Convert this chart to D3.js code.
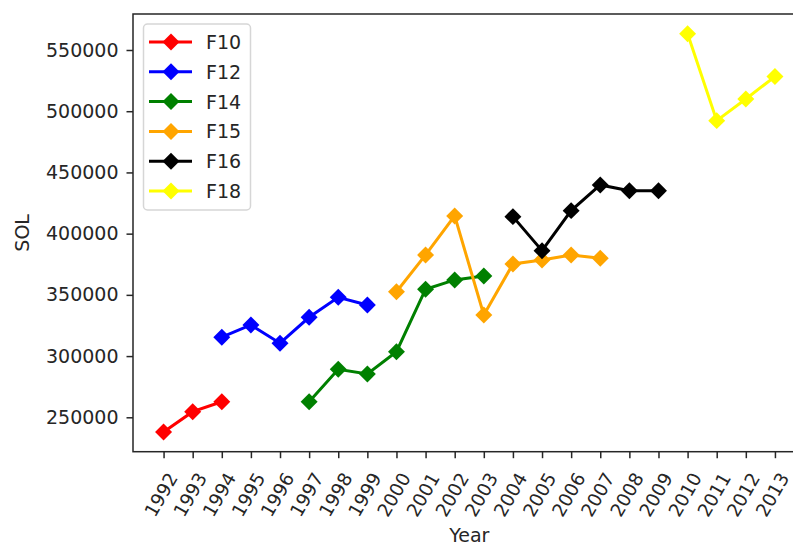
<!DOCTYPE html>
<html><head><meta charset="utf-8">
<script src="https://cdn.jsdelivr.net/npm/d3@7"></script>
<style>body{margin:0;background:#fff}svg{display:block}text{font-family:"DejaVu Sans",sans-serif;fill:#262626}</style>
</head><body>
<svg id="c" width="793" height="547"></svg>
<script>
const years = d3.range(1992, 2014);
const yTicks = [250000, 300000, 350000, 400000, 450000, 500000, 550000];
const seriesNames = ["F10", "F12", "F14", "F15", "F16", "F18"];
const seriesColors = ["#ff0000", "#0000ff", "#008000", "#ffa500", "#000000", "#ffff00"];
const f10Years = [1992, 1993, 1994];
const f10Values = [238000, 254600, 262700];
const f12Years = [1994, 1995, 1996, 1997, 1998, 1999];
const f12Values = [315400, 325400, 310500, 331700, 348000, 341700];
const f14Years = [1997, 1998, 1999, 2000, 2001, 2002, 2003];
const f14Values = [262700, 289200, 285400, 303600, 354600, 362200, 365400];
const f15Years = [2000, 2001, 2002, 2003, 2004, 2005, 2006, 2007];
const f15Values = [352500, 382600, 414500, 333600, 375200, 378500, 382600, 379900];
const f16Years = [2004, 2005, 2006, 2007, 2008, 2009];
const f16Values = [413900, 386100, 418800, 439800, 435100, 435100];
const f18Years = [2010, 2011, 2012, 2013];
const f18Values = [563200, 492300, 510000, 528300];

const allYears = [f10Years, f12Years, f14Years, f15Years, f16Years, f18Years];
const allValues = [f10Values, f12Values, f14Values, f15Values, f16Values, f18Values];

const svg = d3.select("#c");
const L = 133, R = 805.5, T = 14, B = 451.7;
const x = d3.scaleLinear().domain([1990.95, 2014.05]).range([L, R]);
const y = d3.scaleLinear().domain([221900, 579400]).range([B, T]);

// frame
svg.append("rect").attr("x", L).attr("y", T).attr("width", R - L).attr("height", B - T)
  .attr("fill", "none").attr("stroke", "#262626").attr("stroke-width", 1.5);

// y axis
const ya = svg.append("g").attr("transform", `translate(${L},0)`)
  .call(d3.axisLeft(y).tickValues(yTicks).tickFormat(d3.format("d")).tickSize(6.5).tickPadding(8));
ya.select(".domain").remove();
ya.selectAll("line").attr("stroke", "#262626").attr("stroke-width", 1.5);
ya.selectAll("text").attr("font-size", 19).attr("fill", "#262626").style("font-family", "DejaVu Sans");

// x axis
const xa = svg.append("g").attr("transform", `translate(0,${B})`)
  .call(d3.axisBottom(x).tickValues(years).tickFormat(d3.format("d")).tickSize(6.5));
xa.select(".domain").remove();
xa.selectAll("line").attr("stroke", "#262626").attr("stroke-width", 1.5);
xa.selectAll("text").attr("font-size", 18.5).attr("fill", "#262626").style("font-family", "DejaVu Sans")
  .attr("x", 0).attr("y", 0).attr("dy", null)
  .attr("text-anchor", "middle").attr("dominant-baseline", "central")
  .attr("transform", "translate(-3,43) rotate(-60)");

// axis labels
svg.append("text").attr("x", (L + R) / 2).attr("y", 535).attr("text-anchor", "middle")
  .attr("dominant-baseline", "central").attr("font-size", 19).text("Year");
svg.append("text").attr("transform", `translate(22,${(T + B) / 2}) rotate(-90)`).attr("text-anchor", "middle")
  .attr("dominant-baseline", "central").attr("font-size", 19).text("SOL");

// series
const line = d3.line().x(d => x(d[0])).y(d => y(d[1]));
const diamond = d3.symbol().type(d3.symbolSquare).size(12 * 12);
seriesNames.forEach((name, i) => {
  const pts = allYears[i].map((yr, j) => [yr, allValues[i][j]]);
  const g = svg.append("g");
  g.append("path").datum(pts).attr("d", line).attr("fill", "none")
    .attr("stroke", seriesColors[i]).attr("stroke-width", 3);
  g.selectAll("path.m").data(pts).join("path").attr("class", "m")
    .attr("d", diamond)
    .attr("transform", d => `translate(${x(d[0])},${y(d[1])}) rotate(45)`)
    .attr("fill", seriesColors[i]);
});

// legend
const lg = svg.append("g");
lg.append("rect").attr("x", 143.5).attr("y", 24).attr("width", 107).attr("height", 186).attr("rx", 4)
  .attr("fill", "#fff").attr("fill-opacity", 0.8).attr("stroke", "#d6d6d6").attr("stroke-width", 1.5);
seriesNames.forEach((name, i) => {
  const ly = 42 + i * 29.8;
  lg.append("line").attr("x1", 149).attr("x2", 192).attr("y1", ly).attr("y2", ly)
    .attr("stroke", seriesColors[i]).attr("stroke-width", 3);
  lg.append("path").attr("d", diamond).attr("transform", `translate(171,${ly}) rotate(45)`).attr("fill", seriesColors[i]);
  lg.append("text").attr("x", 206).attr("y", ly).attr("dominant-baseline", "central")
    .attr("font-size", 19).text(name);
});
</script>
</body></html>
